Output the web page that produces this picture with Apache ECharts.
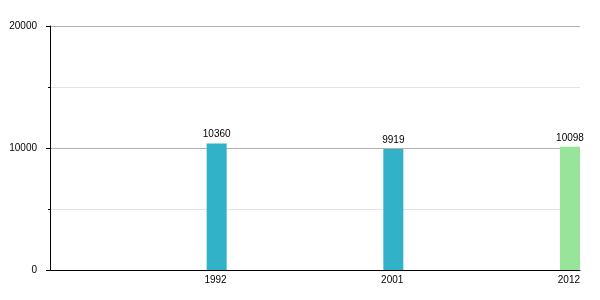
<!DOCTYPE html>
<html>
<head>
<meta charset="utf-8">
<script src="https://cdn.jsdelivr.net/npm/echarts@6/dist/echarts.min.js"></script>
<style>html,body{margin:0;padding:0;background:#fff}#c{width:600px;height:300px}</style>
</head>
<body>
<div id="c"></div>
<script>
// Data
const categories = ['', '1992', '2001', '2012'];
const values = [null, 10360, 9919, 10098];
const barColors = ['#31b2c9', '#31b2c9', '#31b2c9', '#98e49a'];
const yTicks = [0, 10000, 20000];

const chart = echarts.init(document.getElementById('c'), null, {renderer: 'canvas'});
const font = '"Liberation Sans", Arial, Helvetica, sans-serif';
chart.setOption({
  animation: false,
  textStyle: {fontFamily: font},
  grid: {left: 50, right: 20, top: 26, bottom: 30, containLabel: false},
  xAxis: {
    type: 'category',
    data: categories,
    boundaryGap: false,
    axisLine: {lineStyle: {color: '#000', width: 1}},
    axisTick: {show: false},
    axisLabel: {color: '#000', fontSize: 10, fontFamily: font, align: 'right', margin: 5, interval: 0},
    splitLine: {show: false}
  },
  yAxis: {
    type: 'value',
    min: yTicks[0],
    max: yTicks[yTicks.length - 1],
    interval: 10000,
    axisLine: {show: true, lineStyle: {color: '#000', width: 1}},
    axisTick: {show: true, length: 4, lineStyle: {color: '#000'}},
    minorTick: {show: true, splitNumber: 2, length: 2, lineStyle: {color: '#000'}},
    axisLabel: {color: '#000', fontSize: 10, fontFamily: font, margin: 13, formatter: v => String(v)},
    splitLine: {show: true, lineStyle: {color: '#b0b0b0', width: 1}},
    minorSplitLine: {show: true, lineStyle: {color: '#e4e4e4', width: 1}}
  },
  series: [
    {
      type: 'bar',
      barWidth: 20,
      barGap: 0,
      data: values.map((v, i) => v == null ? null : {value: v, itemStyle: {color: barColors[i]}}),
      label: {show: true, position: 'top', color: '#000', fontSize: 10, fontFamily: font, distance: 4}
    },
    {
      type: 'bar',
      barWidth: 20,
      barGap: 0,
      data: values.map(() => null),
      silent: true
    }
  ]
});
</script>
</body>
</html>
